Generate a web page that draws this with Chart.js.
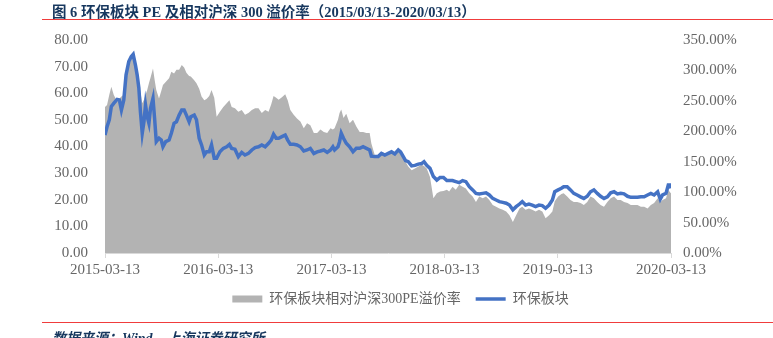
<!DOCTYPE html>
<html>
<head>
<meta charset="utf-8">
<script src="https://cdn.jsdelivr.net/npm/chart.js@4.4.1/dist/chart.umd.min.js"></script>
<style>
  body { margin: 0; background: #fff; }
  #wrap { position: relative; width: 773px; height: 338px; overflow: hidden; }
  #chart { position: absolute; left: 0; top: 0; }
  #title { position: absolute; left: 52px; top: 0; line-height: 17px; white-space: nowrap;
    font: bold 14.5px "Liberation Serif", "Noto Sans CJK SC"; color: #17375E; }
  .rule { position: absolute; left: 42px; right: 0; height: 1px; background: #F03C3C; }
  #source { position: absolute; left: 52px; top: 327px; line-height: 16px; white-space: nowrap;
    font: italic bold 14px "Liberation Serif", "Noto Sans CJK SC"; color: #17375E; }
</style>
</head>
<body>
<div id="wrap">
  <canvas id="chart" width="773" height="338"></canvas>
  <div id="title">图 6 环保板块 PE 及相对沪深 300 溢价率（2015/03/13-2020/03/13）</div>
  <div class="rule" style="top:19px"></div>
  <div class="rule" style="top:322px"></div>
  <div id="source">数据来源：Wind，上海证券研究所</div>
</div>
<script>
// x ticks: one per year
var dateLabels = ["2015-03-13", "2016-03-13", "2017-03-13", "2018-03-13", "2019-03-13", "2020-03-13"];

// sample position, in years after 2015-03-13
var years = [
  0, 0.018, 0.038, 0.056, 0.077, 0.107, 0.127, 0.145, 0.166, 0.186,
  0.210, 0.231, 0.249, 0.269, 0.284, 0.299, 0.313, 0.329, 0.344, 0.358,
  0.373, 0.388, 0.402, 0.424, 0.438, 0.453, 0.477, 0.497, 0.512, 0.536,
  0.566, 0.586, 0.610, 0.631, 0.655, 0.678, 0.699, 0.719, 0.743, 0.758,
  0.788, 0.808, 0.832, 0.853, 0.877, 0.897, 0.921, 0.941, 0.965, 0.986,
  1.015, 1.045, 1.075, 1.099, 1.119, 1.148, 1.178, 1.208, 1.237, 1.267,
  1.297, 1.326, 1.356, 1.385, 1.415, 1.445, 1.468, 1.489, 1.512, 1.534,
  1.563, 1.592, 1.614, 1.637, 1.667, 1.696, 1.726, 1.756, 1.785, 1.814,
  1.845, 1.874, 1.903, 1.933, 1.963, 1.992,
  2.013, 2.028, 2.058, 2.072, 2.087, 2.107, 2.131, 2.161, 2.191, 2.220,
  2.250, 2.280, 2.309, 2.338, 2.353, 2.383, 2.413, 2.442, 2.472, 2.502,
  2.531, 2.560, 2.591, 2.611, 2.635, 2.655, 2.679, 2.709, 2.738, 2.768,
  2.797, 2.818, 2.842, 2.871, 2.901, 2.931, 2.960, 2.990,
  3.020, 3.040, 3.070, 3.099, 3.129, 3.159, 3.188, 3.218, 3.248, 3.277,
  3.306, 3.337, 3.366, 3.395, 3.425, 3.455, 3.484, 3.514, 3.544, 3.573,
  3.603, 3.632, 3.662, 3.686, 3.715, 3.745, 3.774, 3.804, 3.834, 3.863,
  3.892, 3.923, 3.952, 3.973, 4.003, 4.032,
  4.052, 4.083, 4.112, 4.141, 4.171, 4.201, 4.230, 4.260, 4.289, 4.319,
  4.349, 4.378, 4.408, 4.438, 4.467, 4.497, 4.527, 4.556, 4.585, 4.616,
  4.645, 4.674, 4.704, 4.734, 4.763, 4.793, 4.822, 4.851, 4.882, 4.905,
  4.926, 4.956, 4.976, 4.991, 5.0
];

// 环保板块 PE (left axis)
var sectorPE = [
  44.3, 47.4, 50, 55, 56.2, 57.7, 57.5, 53.7, 57.5, 66.9,
  71.9, 73.7, 74.6, 70.6, 66.9, 62, 53, 45, 49.3, 55.6,
  51.2, 48.7, 54.3, 58.1, 50.6, 41.8, 43.1, 42.4, 39.9, 41.8,
  42.4, 45, 48.7, 49.3, 51.8, 53.7, 53.7, 51.8, 49.3, 51.2,
  51.8, 50, 43.1, 40.6, 36.8, 38, 38, 40.6, 35.6, 35.6,
  38, 39.3, 39.9, 40.8, 39.3, 39, 36.2, 37.8, 36.8, 37.4,
  38.7, 39.6, 39.9, 40.6, 39.9, 41.2, 42.4, 44.6, 43.1, 43.1,
  43.7, 44.3, 42.4, 40.8, 40.8, 40.6, 39.9, 38.3, 38.7, 39.3,
  37.4, 38, 38.3, 38.7, 37.8, 38.7,
  39.9, 38.7, 39.9, 41.8, 45, 43.1, 41.2, 39.9, 38, 39.3,
  39.3, 39.9, 39.3, 38.7, 36.4, 36.2, 36.2, 37.4, 36.8, 37.4,
  38, 37.2, 38.7, 38, 36.2, 34.7, 34.3, 32.7, 32.9, 33.4,
  33.6, 34.3, 32.9, 31.8, 28.7, 27.4, 28.4, 28.4,
  27.2, 27.2, 27.2, 26.8, 26.4, 27.2, 26.8, 24.9, 23.7, 22.4,
  22.2, 22.4, 22.6, 21.8, 20.5, 19.9, 19.3, 19, 18.7, 18,
  16.2, 17.4, 18.4, 19.3, 18, 18.4, 18, 17.4, 18, 17.8,
  16.8, 18, 19.9, 23, 23.7, 24.3,
  24.9, 24.9, 23.7, 22.4, 21.8, 21.1, 20.5, 21.3, 23, 23.7,
  22.4, 21.3, 20.5, 21.1, 22.6, 23, 22.2, 22.4, 22.2, 21.3,
  20.9, 20.9, 20.9, 21.1, 21.1, 21.8, 22.4, 21.8, 23, 20.2,
  21.8, 22.4, 25.5, 25.5, 24.3
];

// 相对沪深300 PE 溢价率, % (right axis)
var premium = [
  240, 243, 260, 273, 260, 249, 254, 257, 260, 295,
  312, 320, 325, 315, 295, 279, 265, 246, 252, 260,
  268, 279, 288, 303, 285, 268, 254, 266, 276, 281,
  287, 298, 295, 301, 301, 309, 305, 296, 291, 290,
  284, 279, 270, 257, 251, 253, 258, 268, 255, 224,
  232, 240, 246, 251, 240, 238, 232, 235, 227, 230,
  235, 238, 238, 230, 235, 232, 244, 258, 255, 252,
  256, 261, 251, 235, 227, 221, 216, 205, 213, 210,
  197, 197, 203, 199, 197, 205,
  203, 205, 219, 230, 236, 222, 229, 213, 219, 208,
  199, 199, 197, 197, 180, 161, 161, 166, 164, 164,
  169, 164, 169, 162, 156, 150, 142, 136, 139, 142,
  145, 143, 139, 125, 90, 98, 101, 102,
  104, 101, 109, 104, 112, 109, 106, 98, 93, 84,
  93, 90, 93, 87, 79, 76, 73, 71, 68, 62,
  51, 62, 73, 76, 71, 73, 71, 68, 71, 68,
  57, 62, 68, 85, 93, 97,
  98, 93, 87, 84, 84, 82, 79, 84, 93, 90,
  84, 79, 76, 84, 90, 93, 87, 87, 84, 82,
  79, 79, 79, 76, 76, 73, 79, 82, 90, 84,
  87, 90, 104, 100, 98
];

function toPoints(vals) {
  var pts = [];
  for (var i = 0; i < vals.length; i++) {
    pts.push({ x: years[i], y: vals[i] });
  }
  return pts;
}

var tickFont = { family: "'Liberation Serif', serif", size: 15 };
var tickColor = "#666666";

const ctx = document.getElementById("chart");
const myChart = new Chart(ctx, {
  type: "line",
  data: {
    datasets: [
      {
        label: "环保板块相对沪深300PE溢价率",
        data: toPoints(premium),
        yAxisID: "y1",
        fill: "origin",
        backgroundColor: "#B3B3B3",
        borderColor: "#B3B3B3",
        borderWidth: 0,
        pointRadius: 0,
        pointStyle: "rect",
        order: 2,
      },
      {
        label: "环保板块",
        data: toPoints(sectorPE),
        yAxisID: "y",
        fill: false,
        backgroundColor: "#4472C4",
        borderColor: "#4472C4",
        borderWidth: 3.5,
        pointRadius: 0,
        pointStyle: "line",
        tension: 0,
        order: 1,
      },
    ],
  },
  options: {
    responsive: false,
    animation: false,
    layout: { padding: { top: 40, left: 28, right: 0, bottom: 22 } },
    plugins: {
      tooltip: { enabled: false },
      legend: {
        position: "bottom",
        labels: {
          usePointStyle: true,
          pointStyleWidth: 30,
          boxHeight: 7,
          padding: 15,
          color: tickColor,
          font: { family: "'Liberation Serif', 'Noto Sans CJK SC'", size: 14 },
          sort: function (a, b) { return a.datasetIndex - b.datasetIndex; },
        },
      },
    },
    scales: {
      x: {
        type: "linear",
        min: 0,
        max: 5,
        grid: { display: true, drawOnChartArea: false, drawTicks: true, tickLength: 5, color: "#D9D9D9" },
        border: { display: true, color: "#D9D9D9", width: 1 },
        ticks: {
          stepSize: 1,
          autoSkip: false,
          maxRotation: 0,
          padding: 3,
          color: tickColor,
          font: tickFont,
          callback: function (v) { return dateLabels[v]; },
        },
        afterFit: function (scale) { scale.height = 24; },
      },
      y: {
        position: "left",
        min: 0,
        max: 80,
        grid: { display: false, drawTicks: false },
        border: { display: false },
        ticks: {
          stepSize: 10,
          padding: 17,
          color: tickColor,
          font: tickFont,
          callback: function (v) { return v.toFixed(2); },
        },
        afterFit: function (scale) { scale.width = 77; },
      },
      y1: {
        position: "right",
        min: 0,
        max: 350,
        grid: { display: false, drawTicks: false },
        border: { display: false },
        ticks: {
          stepSize: 50,
          padding: 12,
          color: tickColor,
          font: tickFont,
          callback: function (v) { return v.toFixed(2) + "%"; },
        },
        afterFit: function (scale) { scale.width = 102; },
      },
    },
  },
});
</script>
</body>
</html>
